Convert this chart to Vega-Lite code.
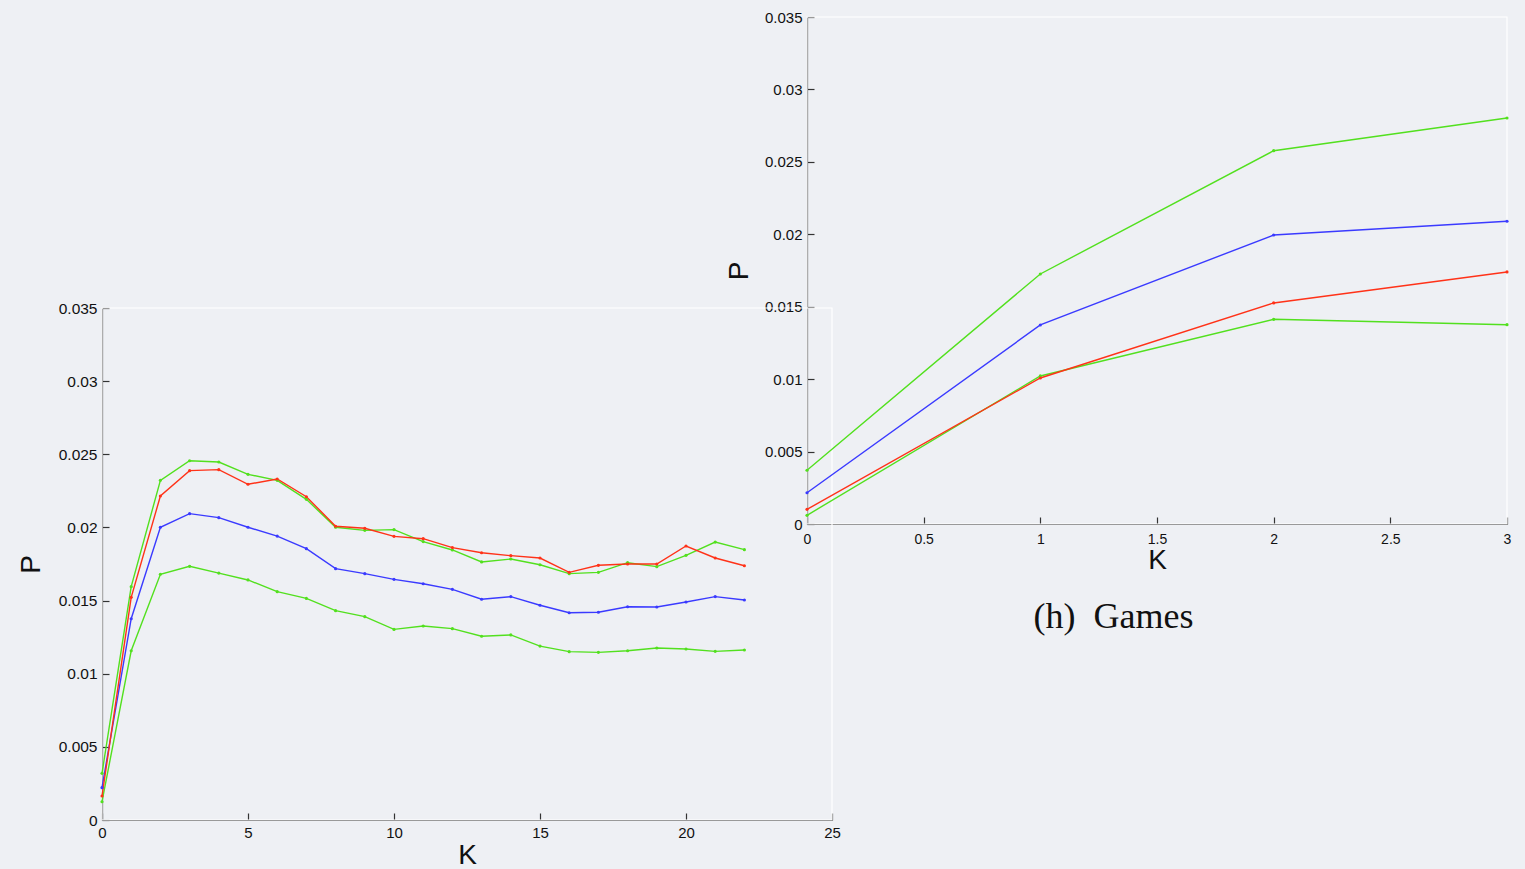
{
  "$schema": "https://vega.github.io/schema/vega-lite/v6.json",
  "width": 1525,
  "height": 869,
  "autosize": {"type": "none"},
  "padding": 0,
  "background": "#eef0f4",
  "config": {
    "view": {"stroke": null},
    "axis": {
      "grid": false,
      "labelFont": "Liberation Sans",
      "titleFont": "Liberation Sans",
      "labelColor": "#111111",
      "titleColor": "#111111",
      "domainColor": "#333333",
      "tickColor": "#333333",
      "domainWidth": 1.2,
      "tickWidth": 1.2,
      "labelFlush": false,
      "labelOverlap": false,
      "titleFontWeight": "normal",
      "tickSize": -7
    }
  },
  "datasets": {
    "left": [
      {"s": "g1", "k": 0, "p": 0.00319}, {"s": "g1", "k": 1, "p": 0.01595}, {"s": "g1", "k": 2, "p": 0.02322}, {"s": "g1", "k": 3, "p": 0.02456},
      {"s": "g1", "k": 4, "p": 0.02447}, {"s": "g1", "k": 5, "p": 0.02363}, {"s": "g1", "k": 6, "p": 0.02322}, {"s": "g1", "k": 7, "p": 0.02192},
      {"s": "g1", "k": 8, "p": 0.02001}, {"s": "g1", "k": 9, "p": 0.0198}, {"s": "g1", "k": 10, "p": 0.01985}, {"s": "g1", "k": 11, "p": 0.01903},
      {"s": "g1", "k": 12, "p": 0.01846}, {"s": "g1", "k": 13, "p": 0.01764}, {"s": "g1", "k": 14, "p": 0.01784}, {"s": "g1", "k": 15, "p": 0.01745},
      {"s": "g1", "k": 16, "p": 0.01684}, {"s": "g1", "k": 17, "p": 0.01693}, {"s": "g1", "k": 18, "p": 0.01759}, {"s": "g1", "k": 19, "p": 0.01732},
      {"s": "g1", "k": 20, "p": 0.01809}, {"s": "g1", "k": 21, "p": 0.019}, {"s": "g1", "k": 22, "p": 0.01848},
      {"s": "b", "k": 0, "p": 0.00221}, {"s": "b", "k": 1, "p": 0.01376}, {"s": "b", "k": 2, "p": 0.02001}, {"s": "b", "k": 3, "p": 0.02094},
      {"s": "b", "k": 4, "p": 0.02067}, {"s": "b", "k": 5, "p": 0.02001}, {"s": "b", "k": 6, "p": 0.01941}, {"s": "b", "k": 7, "p": 0.01855},
      {"s": "b", "k": 8, "p": 0.01718}, {"s": "b", "k": 9, "p": 0.01684}, {"s": "b", "k": 10, "p": 0.01645}, {"s": "b", "k": 11, "p": 0.01615},
      {"s": "b", "k": 12, "p": 0.01577}, {"s": "b", "k": 13, "p": 0.01509}, {"s": "b", "k": 14, "p": 0.01527}, {"s": "b", "k": 15, "p": 0.01468},
      {"s": "b", "k": 16, "p": 0.01417}, {"s": "b", "k": 17, "p": 0.0142}, {"s": "b", "k": 18, "p": 0.01458}, {"s": "b", "k": 19, "p": 0.01456},
      {"s": "b", "k": 20, "p": 0.0149}, {"s": "b", "k": 21, "p": 0.01527}, {"s": "b", "k": 22, "p": 0.01504},
      {"s": "g2", "k": 0, "p": 0.00125}, {"s": "g2", "k": 1, "p": 0.01157}, {"s": "g2", "k": 2, "p": 0.0168}, {"s": "g2", "k": 3, "p": 0.01734},
      {"s": "g2", "k": 4, "p": 0.01688}, {"s": "g2", "k": 5, "p": 0.01641}, {"s": "g2", "k": 6, "p": 0.01561}, {"s": "g2", "k": 7, "p": 0.01515},
      {"s": "g2", "k": 8, "p": 0.01431}, {"s": "g2", "k": 9, "p": 0.0139}, {"s": "g2", "k": 10, "p": 0.01303}, {"s": "g2", "k": 11, "p": 0.01326},
      {"s": "g2", "k": 12, "p": 0.01308}, {"s": "g2", "k": 13, "p": 0.01256}, {"s": "g2", "k": 14, "p": 0.01265}, {"s": "g2", "k": 15, "p": 0.01189},
      {"s": "g2", "k": 16, "p": 0.01151}, {"s": "g2", "k": 17, "p": 0.01146}, {"s": "g2", "k": 18, "p": 0.01157}, {"s": "g2", "k": 19, "p": 0.01176},
      {"s": "g2", "k": 20, "p": 0.01169}, {"s": "g2", "k": 21, "p": 0.01153}, {"s": "g2", "k": 22, "p": 0.01162},
      {"s": "r", "k": 0, "p": 0.00164}, {"s": "r", "k": 1, "p": 0.01522}, {"s": "r", "k": 2, "p": 0.02215}, {"s": "r", "k": 3, "p": 0.02388},
      {"s": "r", "k": 4, "p": 0.02395}, {"s": "r", "k": 5, "p": 0.02295}, {"s": "r", "k": 6, "p": 0.02331}, {"s": "r", "k": 7, "p": 0.0221},
      {"s": "r", "k": 8, "p": 0.02008}, {"s": "r", "k": 9, "p": 0.01994}, {"s": "r", "k": 10, "p": 0.01939}, {"s": "r", "k": 11, "p": 0.01923},
      {"s": "r", "k": 12, "p": 0.01862}, {"s": "r", "k": 13, "p": 0.01827}, {"s": "r", "k": 14, "p": 0.01807}, {"s": "r", "k": 15, "p": 0.01791},
      {"s": "r", "k": 16, "p": 0.01693}, {"s": "r", "k": 17, "p": 0.01741}, {"s": "r", "k": 18, "p": 0.0175}, {"s": "r", "k": 19, "p": 0.0175},
      {"s": "r", "k": 20, "p": 0.01873}, {"s": "r", "k": 21, "p": 0.01791}, {"s": "r", "k": 22, "p": 0.01738}
    ],
    "right": [
      {"s": "g1", "k": 0, "p": 0.00371}, {"s": "g1", "k": 1, "p": 0.01726}, {"s": "g1", "k": 2, "p": 0.02577}, {"s": "g1", "k": 3, "p": 0.02803},
      {"s": "b", "k": 0, "p": 0.00216}, {"s": "b", "k": 1, "p": 0.01374}, {"s": "b", "k": 2, "p": 0.01995}, {"s": "b", "k": 3, "p": 0.0209},
      {"s": "g2", "k": 0, "p": 0.0006}, {"s": "g2", "k": 1, "p": 0.01022}, {"s": "g2", "k": 2, "p": 0.01413}, {"s": "g2", "k": 3, "p": 0.01376},
      {"s": "r", "k": 0, "p": 0.00101}, {"s": "r", "k": 1, "p": 0.01008}, {"s": "r", "k": 2, "p": 0.01526}, {"s": "r", "k": 3, "p": 0.0174}
    ],
    "leftFrame": [{"k0": 0, "k1": 25, "p0": 0, "p1": 0.035}],
    "rightFrame": [{"k0": 0, "k1": 3, "p0": 0, "p1": 0.035}],
    "caption": [{"t": "(h)\u00a0\u00a0Games", "k": 1.3136, "p": -0.00718}]
  },
  "layer": [
    {
      "layer": [
        {
          "data": {"name": "leftFrame"},
          "mark": {"type": "rect", "fill": null, "stroke": "#ffffff", "strokeWidth": 1.2},
          "encoding": {
            "x": {"field": "k0", "type": "quantitative"},
            "x2": {"field": "k1"},
            "y": {"field": "p0", "type": "quantitative"},
            "y2": {"field": "p1"}
          }
        },
        {
          "data": {"name": "left"},
          "mark": {"type": "line", "strokeWidth": 1.4},
          "encoding": {
            "x": {"field": "k", "type": "quantitative"},
            "y": {"field": "p", "type": "quantitative"},
            "color": {"field": "s", "type": "nominal", "scale": {"domain": ["g1", "b", "g2", "r"], "range": ["#52e01e", "#3a3aff", "#52e01e", "#ff3218"]}, "legend": null}
          }
        },
        {
          "data": {"name": "left"},
          "mark": {"type": "point", "filled": true, "size": 10, "opacity": 1},
          "encoding": {
            "x": {"field": "k", "type": "quantitative"},
            "y": {"field": "p", "type": "quantitative"},
            "color": {"field": "s", "type": "nominal", "scale": {"domain": ["g1", "b", "g2", "r"], "range": ["#52e01e", "#3a3aff", "#52e01e", "#ff3218"]}, "legend": null}
          }
        }
      ],
      "encoding": {
        "x": {
          "type": "quantitative",
          "scale": {"domain": [0, 25], "range": [102, 832], "nice": false, "zero": false},
          "axis": {"orient": "bottom", "offset": -49, "values": [0, 5, 10, 15, 20, 25], "format": "~g", "title": "K", "titleFontSize": 28, "labelFontSize": 15, "labelPadding": 12, "titlePadding": 1}
        },
        "y": {
          "type": "quantitative",
          "scale": {"domain": [0, 0.035], "range": [820, 308], "nice": false, "zero": false},
          "axis": {"orient": "left", "offset": -102, "values": [0, 0.005, 0.01, 0.015, 0.02, 0.025, 0.03, 0.035], "format": "~g", "title": "P", "titleFontSize": 28, "labelFontSize": 15.5, "labelPadding": 12, "titlePadding": 13}
        }
      }
    },
    {
      "layer": [
        {
          "data": {"name": "rightFrame"},
          "mark": {"type": "rect", "fill": null, "stroke": "#ffffff", "strokeWidth": 1.2},
          "encoding": {
            "x": {"field": "k0", "type": "quantitative"},
            "x2": {"field": "k1"},
            "y": {"field": "p0", "type": "quantitative"},
            "y2": {"field": "p1"}
          }
        },
        {
          "data": {"name": "right"},
          "mark": {"type": "line", "strokeWidth": 1.4},
          "encoding": {
            "x": {"field": "k", "type": "quantitative"},
            "y": {"field": "p", "type": "quantitative"},
            "color": {"field": "s", "type": "nominal", "scale": {"domain": ["g1", "b", "g2", "r"], "range": ["#52e01e", "#3a3aff", "#52e01e", "#ff3218"]}, "legend": null}
          }
        },
        {
          "data": {"name": "right"},
          "mark": {"type": "point", "filled": true, "size": 10, "opacity": 1},
          "encoding": {
            "x": {"field": "k", "type": "quantitative"},
            "y": {"field": "p", "type": "quantitative"},
            "color": {"field": "s", "type": "nominal", "scale": {"domain": ["g1", "b", "g2", "r"], "range": ["#52e01e", "#3a3aff", "#52e01e", "#ff3218"]}, "legend": null}
          }
        },
        {
          "data": {"name": "caption"},
          "mark": {"type": "text", "font": "Liberation Serif", "fontSize": 36, "color": "#111111", "align": "center", "baseline": "alphabetic"},
          "encoding": {
            "x": {"field": "k", "type": "quantitative"},
            "y": {"field": "p", "type": "quantitative"},
            "text": {"field": "t"}
          }
        }
      ],
      "encoding": {
        "x": {
          "type": "quantitative",
          "scale": {"domain": [0, 3], "range": [807, 1507], "nice": false, "zero": false},
          "axis": {"orient": "bottom", "offset": -345, "values": [0, 0.5, 1, 1.5, 2, 2.5, 3], "format": "~g", "title": "K", "titleFontSize": 28, "labelFontSize": 14, "labelPadding": 15, "titlePadding": 0}
        },
        "y": {
          "type": "quantitative",
          "scale": {"domain": [0, 0.035], "range": [524, 17], "nice": false, "zero": false},
          "axis": {"orient": "left", "offset": -807, "values": [0, 0.005, 0.01, 0.015, 0.02, 0.025, 0.03, 0.035], "format": "~g", "title": "P", "titleFontSize": 28, "labelFontSize": 15, "labelPadding": 12, "titlePadding": 11}
        }
      }
    }
  ],
  "resolve": {
    "scale": {"x": "independent", "y": "independent", "color": "independent"},
    "axis": {"x": "independent", "y": "independent"}
  }
}
